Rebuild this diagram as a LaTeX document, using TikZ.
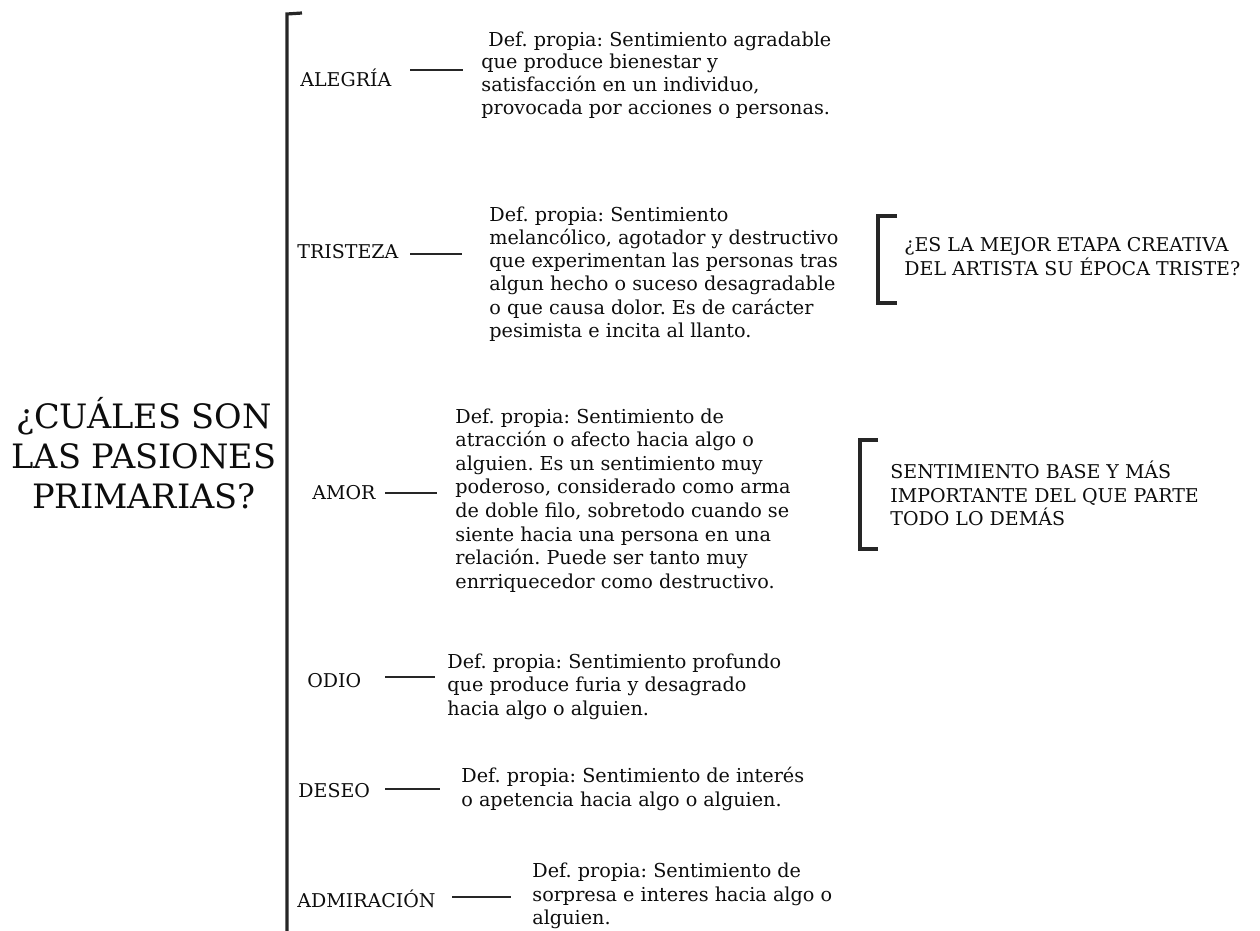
\documentclass[tikz,border=0pt]{standalone}
\usepackage{fontspec}
\setmainfont{DejaVu Serif}
\frenchspacing
\begin{document}
\begin{tikzpicture}[x=0.5pt,y=-0.5pt,
  bodytext/.style={anchor=west,inner sep=0pt,align=left,font=\fontsize{9.6}{11.4}\selectfont,text=black!95},
  lbl/.style={anchor=west,inner sep=0pt,font=\fontsize{9.5}{11.4}\selectfont,text=black!95},
  captext/.style={anchor=west,inner sep=0pt,align=left,font=\fontsize{9.5}{11.6}\selectfont,text=black!95},
  ttl/.style={inner sep=0pt,align=center,font=\fontsize{16.8}{20}\selectfont,text=black!95},
  brk/.style={draw=black!85,line width=1.6pt},
  dashline/.style={draw=black!85,line width=1.4pt}]
\useasboundingbox (0,0) rectangle (1260,931);
% title
\node[ttl] (title) at (144,453) {¿CUÁLES SON\\LAS PASIONES\\PRIMARIAS?};
% main bracket
\coordinate (mbtop) at (287,14);
\coordinate (mbhook) at (302,13);
\coordinate (mbbot) at (287,931);
\draw[brk] (mbhook) -- (mbtop) -- (mbbot);
% labels
\node[lbl] (alegria) at (300,78) {ALEGRÍA};
\node[lbl] (tristeza) at (297,252) {TRISTEZA};
\node[lbl] (amor) at (312,493) {AMOR};
\node[lbl] (odio) at (307,681) {ODIO};
\node[lbl] (deseo) at (298,791) {DESEO};
\node[lbl] (admiracion) at (297,899) {ADMIRACIÓN};
% definitions
\node[bodytext] (dalegria) at (481,75) {\hspace{3.5pt}Def. propia: Sentimiento agradable\\que produce bienestar y\\satisfacción en un individuo,\\provocada por acciones o personas.};
\node[bodytext,font=\fontsize{9.6}{11.6}\selectfont] (dtristeza) at (489,274) {Def. propia: Sentimiento\\melancólico, agotador y destructivo\\que experimentan las personas tras\\algun hecho o suceso desagradable\\o que causa dolor. Es de carácter\\pesimista e incita al llanto.};
\node[bodytext,font=\fontsize{9.6}{11.8}\selectfont] (damor) at (455,500.5) {Def. propia: Sentimiento de\\atracción o afecto hacia algo o\\alguien. Es un sentimiento muy\\poderoso, considerado como arma\\de doble filo, sobretodo cuando se\\siente hacia una persona en una\\relación. Puede ser tanto muy\\enrriquecedor como destructivo.};
\node[bodytext,font=\fontsize{9.6}{11.8}\selectfont] (dodio) at (447,686.5) {Def. propia: Sentimiento profundo\\que produce furia y desagrado\\hacia algo o alguien.};
\node[bodytext,font=\fontsize{9.6}{12}\selectfont] (ddeseo) at (461,789) {Def. propia: Sentimiento de interés\\o apetencia hacia algo o alguien.};
\node[bodytext,font=\fontsize{9.6}{11.6}\selectfont] (dadmiracion) at (532,896) {Def. propia: Sentimiento de\\sorpresa e interes hacia algo o\\alguien.};
% connector dashes
\coordinate (a1) at (410,70); \coordinate (a2) at (463,70);
\coordinate (t1) at (410,254); \coordinate (t2) at (462,254);
\coordinate (m1) at (385,493); \coordinate (m2) at (437,493);
\coordinate (o1) at (385,677); \coordinate (o2) at (435,677);
\coordinate (e1) at (385,789); \coordinate (e2) at (440,789);
\coordinate (d1) at (452,897); \coordinate (d2) at (511,897);
\draw[dashline] (a1) -- (a2);
\draw[dashline] (t1) -- (t2);
\draw[dashline] (m1) -- (m2);
\draw[dashline] (o1) -- (o2);
\draw[dashline] (e1) -- (e2);
\draw[dashline] (d1) -- (d2);
% side brackets
\coordinate (b2a) at (897,216); \coordinate (b2b) at (878,216);
\coordinate (b2c) at (878,303); \coordinate (b2d) at (897,303);
\draw[brk] (b2a) -- (b2b) -- (b2c) -- (b2d);
\node[captext] (q1) at (904,256.5) {¿ES LA MEJOR ETAPA CREATIVA\\DEL ARTISTA SU ÉPOCA TRISTE?};
\coordinate (b3a) at (878,440); \coordinate (b3b) at (860,440);
\coordinate (b3c) at (860,549); \coordinate (b3d) at (878,549);
\draw[brk] (b3a) -- (b3b) -- (b3c) -- (b3d);
\node[captext] (q2) at (890,493.5) {SENTIMIENTO BASE Y MÁS\\IMPORTANTE DEL QUE PARTE\\TODO LO DEMÁS};
\end{tikzpicture}
\end{document}
